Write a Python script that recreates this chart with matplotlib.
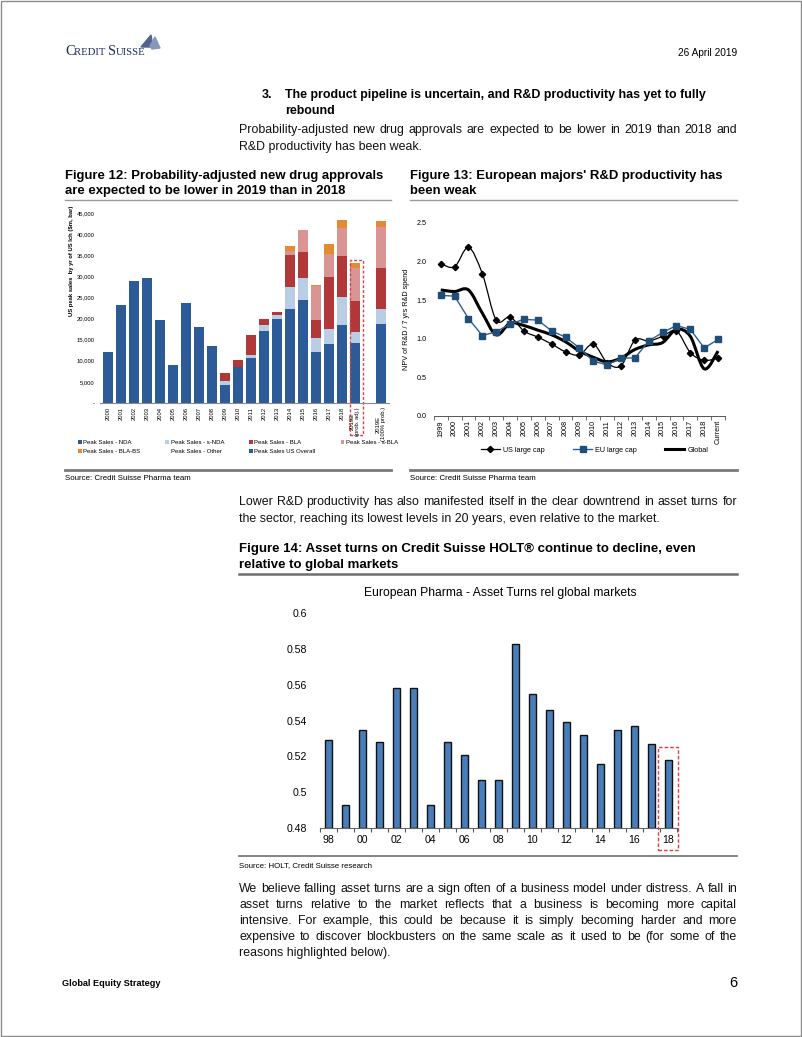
import numpy as np
import matplotlib
matplotlib.use("Agg")
import matplotlib.pyplot as plt
from matplotlib.path import Path
from matplotlib.patches import PathPatch, Rectangle, Polygon
from matplotlib.lines import Line2D
from matplotlib.transforms import Affine2D
from matplotlib import font_manager as fm

# ---- data: Figure 12 (US peak sales by year of launch, $m) ----
fig12_cats = [str(y) for y in range(2000, 2019)] + ["2019E\n(prob. adj.)", "", "2019E\n(100% prob.)"]
peak_overall = [12000, 23100, 29000, 29600, 19600, 9000, 23800, 17900, 13500] + [0] * 13
peak_nda = [0] * 9 + [4200, 8500, 10600, 17000, 20000, 22200, 24300, 12000, 13900, 18500, 14100, 0, 18700]
peak_snda = [0] * 9 + [1000, 0, 800, 1500, 900, 5200, 5300, 3300, 3600, 6500, 2700, 0, 3600]
peak_bla = [0] * 9 + [1900, 1800, 4600, 1400, 700, 7700, 6100, 4300, 12300, 9900, 7300, 0, 9700]
peak_sbla = [0] * 9 + [0, 0, 0, 0, 0, 1000, 5300, 8000, 5600, 6500, 7900, 0, 9800]
peak_blabs = [0] * 9 + [0, 0, 0, 0, 0, 1000, 0, 300, 2300, 1900, 1100, 0, 1300]
peak_other = [0] * 22

# ---- data: Figure 13 (NPV of R&D / 7 yrs R&D spend) ----
fig13_cats = [str(y) for y in range(1999, 2019)] + ["Current"]
us_large_cap = [1.97, 1.93, 2.18, 1.84, 1.24, 1.28, 1.10, 1.02, 0.93, 0.83, 0.79,
                0.93, 0.69, 0.65, 0.98, 0.97, 1.03, 1.10, 0.82, 0.72, 0.75]
eu_large_cap = [1.56, 1.55, 1.26, 1.04, 1.09, 1.19, 1.25, 1.24, 1.10, 1.02, 0.88,
                0.71, 0.66, 0.75, 0.75, 0.97, 1.08, 1.17, 1.12, 0.88, 0.99]
global_rd = [1.63, 1.61, 1.63, 1.33, 1.05, 1.20, 1.17, 1.11, 1.05, 0.96, 0.84,
             0.76, 0.70, 0.75, 0.86, 0.92, 0.95, 1.12, 1.03, 0.61, 0.84]

# ---- data: Figure 14 (asset turns rel global markets) ----
fig14_cats = ["98", "99", "00", "01", "02", "03", "04", "05", "06", "07", "08",
              "09", "10", "11", "12", "13", "14", "15", "16", "17", "18"]
asset_turns = [0.529, 0.493, 0.535, 0.528, 0.558, 0.558, 0.493, 0.528, 0.521, 0.507, 0.507,
               0.583, 0.555, 0.546, 0.539, 0.532, 0.516, 0.535, 0.537, 0.527, 0.518]

# ---- fonts ----
names = {f.name for f in fm.fontManager.ttflist}
SANS = "Liberation Sans"
if "Liberation Sans Narrow" in names:
    NARROW, BODY_SIZE, HEAD_SIZE = "Liberation Sans Narrow", 10.6, 10.65
else:
    NARROW, BODY_SIZE, HEAD_SIZE = SANS, 8.9, 8.9
plt.rcParams["font.family"] = [SANS, "DejaVu Sans"]

W, H = 802, 1037
fig = plt.figure(figsize=(W / 100, H / 100), dpi=100)
PX = Affine2D().scale(1 / W, -1 / H).translate(0, 1) + fig.transFigure
rend = fig.canvas.get_renderer()


def axes_px(left, top, right, bottom):
    return fig.add_axes([left / W, 1 - bottom / H, (right - left) / W, (bottom - top) / H])


def txt(x, y, s, **kw):
    kw.setdefault("va", "center")
    return fig.text(x, y, s, transform=PX, **kw)


def hline(x0, x1, y, color="#9a9a9a", lw=1.0):
    fig.add_artist(Line2D([x0, x1], [y, y], transform=PX, color=color, lw=lw))


def paragraph(lines, x0, x1, y0, dy, **kw):
    # justified lines, last one left aligned
    for k, line in enumerate(lines):
        y = y0 + k * dy
        if k == len(lines) - 1:
            txt(x0, y, line, **kw)
            continue
        words = line.split(" ")
        ts = [txt(0, y, w, **kw) for w in words]
        ws = [t.get_window_extent(rend).width for t in ts]
        gap = (x1 - x0 - sum(ws)) / (len(ws) - 1)
        x = x0
        for t, w in zip(ts, ws):
            t.set_x(x)
            x += w + gap


def smooth_path(x, y):
    pts = np.column_stack([x, y]).astype(float)
    ext = np.vstack([pts[0], pts, pts[-1]])
    verts = [pts[0]]
    codes = [Path.MOVETO]
    for i in range(len(pts) - 1):
        p0, p1, p2, p3 = ext[i], ext[i + 1], ext[i + 2], ext[i + 3]
        verts += [p1 + (p2 - p0) / 6, p2 - (p3 - p1) / 6, p2]
        codes += [Path.CURVE4] * 3
    return Path(verts, codes)


# page frame
fig.add_artist(Rectangle((0.5, 0.5), W - 1.5, H - 1.5, transform=PX, fill=False, ec="#8c8c8c", lw=1))

# ---- header ----
navy = "#1c2d5c"
x = 65
for s, size in [("C", 10.3), ("REDIT ", 7.7), ("S", 10.3), ("UISSE", 7.7)]:
    t = txt(x, 55, s, fontsize=size, family="Liberation Serif", color=navy, va="baseline")
    x += t.get_window_extent(rend).width
# sail mark
fig.add_artist(Polygon([[141, 47], [151, 35], [153, 47]], closed=True, transform=PX, color="#4f6491"))
fig.add_artist(Polygon([[150, 46], [155, 37], [160, 48], [152, 49]], closed=True, transform=PX, color="#8797b8"))
txt(737, 53, "26 April 2019", fontsize=7.3, ha="right")

txt(262, 95, "3.", fontsize=HEAD_SIZE, family=NARROW, weight="bold")
txt(285, 95, "The product pipeline is uncertain, and R&D productivity has yet to fully",
    fontsize=HEAD_SIZE, family=NARROW, weight="bold")
txt(285, 111, "rebound", fontsize=HEAD_SIZE, family=NARROW, weight="bold")

body = dict(fontsize=BODY_SIZE, family=NARROW, color="#111111")
paragraph(["Probability-adjusted new drug approvals are expected to be lower in 2019 than 2018 and",
           "R&D productivity has been weak."], 239, 737, 130, 17, **body)

# ---- figure titles / rules ----
ttl = dict(fontsize=9.45, weight="bold")
txt(65, 176, "Figure 12: Probability-adjusted new drug approvals", **ttl)
txt(65, 191, "are expected to be lower in 2019 than in 2018", **ttl)
txt(410, 176, "Figure 13: European majors' R&D productivity has", **ttl)
txt(410, 191, "been weak", **ttl)
hline(65, 391, 200)
hline(410, 737, 200)
hline(65, 391, 470, color="#7a7a7a", lw=2)
hline(410, 737, 470, color="#7a7a7a", lw=2)
txt(65, 479, "Source: Credit Suisse Pharma team", fontsize=5.7)
txt(410, 479, "Source: Credit Suisse Pharma team", fontsize=5.7)

# ---- Figure 12: stacked bars ----
ax1 = axes_px(100.2, 213, 388.8, 403)
xs = np.arange(len(fig12_cats))
series12 = [
    ("Peak Sales - NDA", peak_nda, "#2d5b97"),
    ("Peak Sales - s-NDA", peak_snda, "#b9cde5"),
    ("Peak Sales - BLA", peak_bla, "#b03838"),
    ("Peak Sales - s-BLA", peak_sbla, "#d99594"),
    ("Peak Sales - BLA-BS", peak_blabs, "#e48a35"),
    ("Peak Sales - Other", peak_other, "white"),
    ("Peak Sales US Overall", peak_overall, "#2d5b97"),
]
bottom = np.zeros(len(xs))
handles = {}
for name, vals, col in series12:
    handles[name] = ax1.bar(xs, vals, 0.7, bottom=bottom, color=col, label=name)
    bottom += np.array(vals)
ax1.set_xlim(-0.6, len(xs) - 0.4)
ax1.set_ylim(0, 45000)
ax1.set_yticks(np.arange(0, 45001, 5000))
ax1.set_yticklabels(["-" if v == 0 else f"{v:,}" for v in range(0, 45001, 5000)])
ax1.set_xticks(xs)
ax1.set_xticklabels(fig12_cats, rotation=90, fontsize=4.2)
ax1.tick_params(axis="y", length=0, pad=4, labelsize=4.2)
ax1.tick_params(axis="x", length=0, pad=3)
for s in ["top", "right", "left"]:
    ax1.spines[s].set_visible(False)
ax1.spines["bottom"].set_color("#8a8a8a")
ax1.set_ylabel("US peak sales  by yr of US lch (\\$m, bar)", fontsize=4.2, weight="bold")
ax1.yaxis.set_label_coords(-0.09, 0.75)
hi = len(fig12_cats) - 3
ax1.add_patch(Rectangle((hi - 0.42, -7600), 1.0, bottom[hi] + 8300, fill=False, ec="#e8383d",
                        ls=(0, (2, 1.5)), lw=1, clip_on=False))
order = ["Peak Sales - NDA", "Peak Sales - BLA-BS", "Peak Sales - s-NDA", "Peak Sales - Other",
         "Peak Sales - BLA", "Peak Sales US Overall", "Peak Sales - s-BLA"]
ax1.legend([handles[n] for n in order], order, ncol=4, mode="expand", loc="center",
           bbox_to_anchor=(78 / W, 1 - 458 / H, 320 / W, 22 / H), bbox_transform=fig.transFigure,
           fontsize=4.3, frameon=False, handlelength=0.6, handleheight=0.6, handletextpad=0.3,
           labelspacing=0.7, borderaxespad=0, borderpad=0)

# ---- Figure 13: lines ----
ax2 = axes_px(433.8, 222.7, 725, 416)
x2 = np.arange(len(fig13_cats))
blue = "#1f4e79"
ax2.add_patch(PathPatch(smooth_path(x2, us_large_cap), fill=False, ec="black", lw=0.9))
ax2.plot(x2, us_large_cap, ls="none", marker="D", ms=3.2, color="black")
ax2.plot(x2, eu_large_cap, color="#2f5f8f", lw=1, marker="s", ms=4.3, mfc=blue, mec=blue)
ax2.add_patch(PathPatch(smooth_path(x2, global_rd), fill=False, ec="black", lw=2.2))
ax2.set_xlim(-0.5, len(x2) - 0.5)
ax2.set_ylim(0, 2.5)
ax2.set_yticks(np.arange(0, 2.51, 0.5))
ax2.yaxis.set_major_formatter(plt.FuncFormatter(lambda v, p: f"{v:.1f}"))
ax2.set_xticks(x2)
ax2.set_xticklabels(fig13_cats, rotation=90, fontsize=5.2)
ax2.set_xticks(np.arange(-0.5, len(x2), 1), minor=True)
ax2.tick_params(axis="x", which="major", length=0, pad=3)
ax2.tick_params(axis="x", which="minor", length=3, width=0.6, color="#555555")
ax2.tick_params(axis="y", length=0, pad=5, labelsize=5.2)
for s in ["top", "right", "left"]:
    ax2.spines[s].set_visible(False)
ax2.spines["bottom"].set_color("#555555")
ax2.spines["bottom"].set_linewidth(0.7)
ax2.set_ylabel("NPV of R&D / 7 yrs R&D spend", fontsize=5.2)
ax2.yaxis.set_label_coords(-0.082, 0.5)
leg_h = [Line2D([], [], color="black", lw=0.9, marker="D", ms=3.2),
         Line2D([], [], color="#2f5f8f", lw=1, marker="s", ms=4.3, mfc=blue, mec=blue),
         Line2D([], [], color="black", lw=2.2)]
ax2.legend(leg_h, ["US large cap", "EU large cap", "Global"], ncol=3, loc="center left",
           bbox_to_anchor=(481 / W, 1 - 450 / H), bbox_transform=fig.transFigure,
           fontsize=5.2, frameon=False, handlelength=2.6, handletextpad=0.4, columnspacing=4.0,
           borderaxespad=0, borderpad=0)

# ---- middle text ----
paragraph(["Lower R&D productivity has also manifested itself in the clear downtrend in asset turns for",
           "the sector, reaching its lowest levels in 20 years, even relative to the market."],
          239, 737, 502, 17, **body)
ttl14 = dict(fontsize=9.5, weight="bold")
txt(239, 549, "Figure 14: Asset turns on Credit Suisse HOLT\u00ae continue to decline, even", **ttl14)
txt(239, 565, "relative to global markets", **ttl14)
hline(239, 737, 574, color="#6e6e6e", lw=1.8)

# ---- Figure 14: bars ----
ax3 = axes_px(319.8, 613.3, 676.8, 828)
x3 = np.arange(len(fig14_cats))
ax3.bar(x3, np.array(asset_turns) - 0.48, 0.43, bottom=0.48, color="#4a7ebb", ec="#111111", lw=1)
ax3.set_xlim(-0.5, len(x3) - 0.5)
ax3.set_ylim(0.48, 0.6)
ax3.set_yticks(np.arange(0.48, 0.601, 0.02))
ax3.yaxis.set_major_formatter(plt.FuncFormatter(lambda v, p: f"{round(v, 2):g}"))
ax3.set_xticks(x3[::2])
ax3.set_xticklabels(fig14_cats[::2])
ax3.set_xticks(np.arange(-0.5, len(x3), 1), minor=True)
ax3.tick_params(axis="x", which="major", length=0, pad=5, labelsize=7.6)
ax3.tick_params(axis="x", which="minor", length=3, width=0.8, color="#555555")
ax3.tick_params(axis="y", length=0, pad=9, labelsize=7.6)
for s in ["top", "right", "left"]:
    ax3.spines[s].set_visible(False)
ax3.spines["bottom"].set_color("#666666")
last = len(x3) - 1
ax3.add_patch(Rectangle((last - 0.6, 0.4677), 1.2, asset_turns[last] + 0.0074 - 0.4677, fill=False,
                        ec="#e8383d", ls=(0, (2.5, 1.5)), lw=1, clip_on=False))
txt(500, 593, "European Pharma - Asset Turns rel global markets", fontsize=8.7, ha="center")

hline(239, 737, 856, color="#7a7a7a", lw=1.3)
txt(239, 866, "Source: HOLT, Credit Suisse research", fontsize=5.7)

paragraph(["We believe falling asset turns are a sign often of a business model under distress. A fall in",
           "asset turns relative to the market reflects that a business is becoming more capital",
           "intensive. For example, this could be because it is simply becoming harder and more",
           "expensive to discover blockbusters on the same scale as it used to be (for some of the",
           "reasons highlighted below)."], 239, 737, 889, 16, **body)

# ---- footer ----
txt(62, 983, "Global Equity Strategy", fontsize=6.6, family=NARROW, weight="bold")
txt(737, 983, "6", fontsize=10.5, ha="right")

fig.savefig("out.png", dpi=100)
